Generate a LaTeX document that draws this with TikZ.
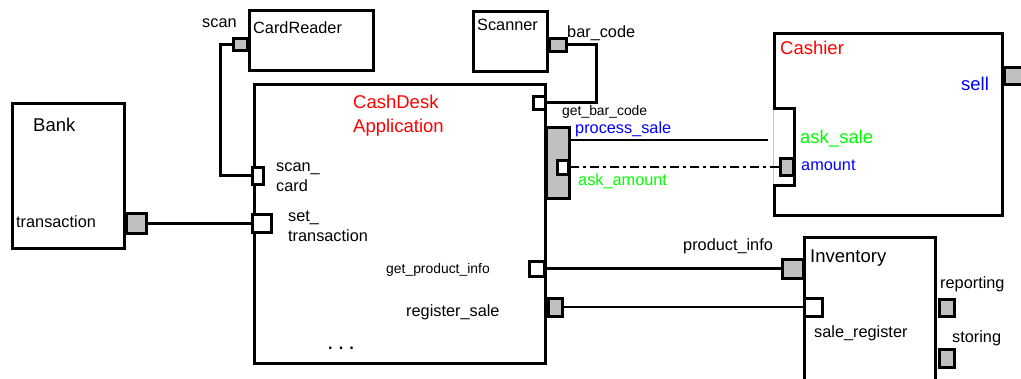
\documentclass[tikz,border=0pt]{standalone}
\usepackage{fontspec}
\setmainfont{Liberation Sans}
\definecolor{portgray}{RGB}{192,192,192}
\newcommand\fntN{\fontsize{16.3}{19.5}\selectfont}
\newcommand\fntT{\fontsize{18.5}{24}\selectfont}
\newcommand\fntS{\fontsize{13.9}{16}\selectfont}

\begin{document}
\begin{tikzpicture}[
    x=1pt, y=-1pt,
    comp/.style={draw, line width=3pt, fill=white, inner sep=0pt},
    port/.style={draw, line width=3pt, fill=portgray, inner sep=0pt},
    reqport/.style={draw, line width=3pt, fill=white, inner sep=0pt},
    wire/.style={line width=2.7pt},
    dashdot/.style={dash pattern=on 9pt off 4pt on 3pt off 4pt},
    lbl/.style={anchor=base west, inner sep=0pt, font=\fntN},
    title/.style={anchor=base west, inner sep=0pt, font=\fntT},
    slbl/.style={anchor=base west, inner sep=0pt, font=\fntS}
  ]
  \useasboundingbox (0,0) rectangle (1021,378);

  % components
  \node[comp, minimum width=124pt, minimum height=60pt] (reader) at (311,40) {};
  \node[comp, minimum width=74pt, minimum height=60pt] (scanner) at (510,41) {};
  \node[comp, minimum width=291pt, minimum height=279pt] (desk) at (399.5,223.5) {};
  \node[comp, minimum width=112pt, minimum height=145pt] (bank) at (68,175.5) {};
  \node[comp, minimum width=228pt, minimum height=182pt] (cashier) at (888,124) {};
  \node[comp, minimum width=131pt, minimum height=143pt] (inventory) at (869.5,308.5) {};

  % delegation frame on the cashier
  \node[fill=white, draw=gray!45, line width=0.6pt, inner sep=0pt,
    minimum width=21pt, minimum height=76pt] (cashin) at (783.5,147) {};
  \draw[line width=3pt] (cashin.north west) -| (cashin.south east) -- (cashin.south west);

  % ports
  \node[port, minimum width=14pt, minimum height=12pt] (scan) at (240,44.5) {};
  \node[reqport, minimum width=11pt, minimum height=17pt] (scancard) at (257.5,175.5) {};
  \node[port, minimum width=17pt, minimum height=13pt] (barcode) at (557.5,44.5) {};
  \node[reqport, minimum width=12pt, minimum height=13pt] (getbar) at (539,102.5) {};
  \node[port, minimum width=23pt, minimum height=71pt] (sale) at (557.5,162.5) {};
  \node[reqport, minimum width=11pt, minimum height=14pt] (askamt) at (562.5,167) {};
  \node[port, minimum width=13pt, minimum height=17pt] (amount) at (786.5,167) {};
  \node[port, minimum width=24pt, minimum height=17pt] (sell) at (1016,75.5) {};
  \node[port, minimum width=20pt, minimum height=20pt] (trans) at (136,223.5) {};
  \node[reqport, minimum width=19pt, minimum height=18pt] (settrans) at (261.5,223.5) {};
  \node[reqport, minimum width=15pt, minimum height=15pt] (getprod) at (536.5,268.5) {};
  \node[port, minimum width=21pt, minimum height=19pt] (prodinfo) at (792.5,268.5) {};
  \node[port, minimum width=14pt, minimum height=18pt] (regsale) at (555,307) {};
  \node[reqport, minimum width=18pt, minimum height=18pt] (salereg) at (813,307) {};
  \node[port, minimum width=15pt, minimum height=17pt] (reporting) at (946.5,307.5) {};
  \node[port, minimum width=15pt, minimum height=18pt] (storing) at (946.5,358) {};

  % connectors
  \draw[wire] (scan.west) -- ++(-11,0) |- (scancard.west);
  \draw[wire] (barcode.east) -- ++(29,0) |- (getbar.east);
  \draw[wire, shorten >=5pt] (sale.east |- 0,140) -- (cashin.west |- 0,140);
  \draw[wire, dashdot] (askamt.east) -- (amount.west);
  \draw[wire] (trans.east) -- (settrans.west);
  \draw[wire] (getprod.east) -- (prodinfo.west);
  \draw[wire] (regsale.east) -- (salereg.west);

  % labels
  \node[lbl] (scanlbl) at (202,27) {scan};
  \node[lbl] (readerlbl) at (253,33) {CardReader};
  \node[lbl] (scannerlbl) at (477,30) {Scanner};
  \node[lbl] (barcodelbl) at (567,37) {bar\_code};
  \node[title, text=red, align=left] (desklbl) at (353,132) {CashDesk\\Application};
  \node[slbl] (getbarlbl) at (562,115) {get\_bar\_code};
  \node[lbl, text=blue] (salelbl) at (575,133) {process\_sale};
  \node[lbl, text=green] (askamtlbl) at (578,185) {ask\_amount};
  \node[title, text=red] (cashierlbl) at (780,54) {Cashier};
  \node[title, text=blue] (selllbl) at (961,90) {sell};
  \node[title, text=green] (asksalelbl) at (800,143) {ask\_sale};
  \node[lbl, text=blue] (amountlbl) at (801,170) {amount};
  \node[title] (banklbl) at (33,131) {Bank};
  \node[lbl] (translbl) at (16,227) {transaction};
  \node[lbl, align=left] (scancardlbl) at (276,191) {scan\_\\card};
  \node[lbl, align=left] (settranslbl) at (288,241) {set\_\\transaction};
  \node[slbl] (getprodlbl) at (386,273) {get\_product\_info};
  \node[lbl] (regsalelbl) at (406,316) {register\_sale};
  \node[lbl] (morelbl) at (328,349) {\textbf{. . .}};
  \node[lbl] (prodinfolbl) at (683,250) {product\_info};
  \node[title] (inventorylbl) at (810,262) {Inventory};
  \node[lbl] (reportinglbl) at (940,288) {reporting};
  \node[lbl] (storinglbl) at (952,342) {storing};
  \node[lbl] (salereglbl) at (814,337) {sale\_register};
\end{tikzpicture}
\end{document}
